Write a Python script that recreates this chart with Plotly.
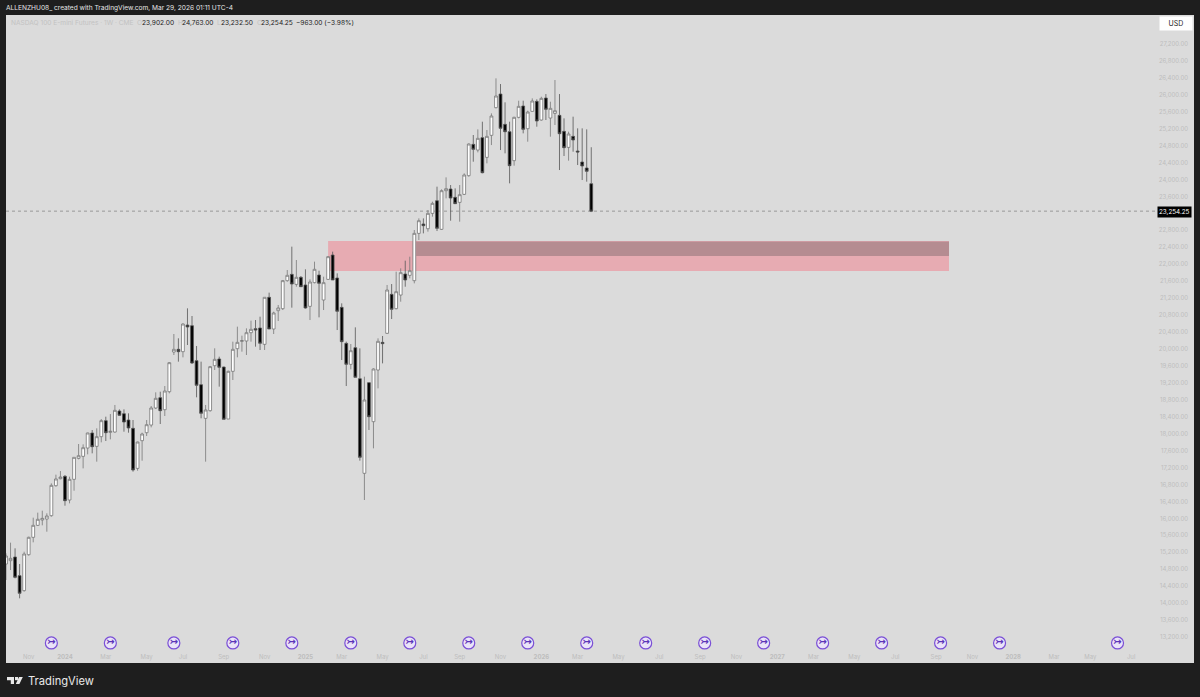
import plotly.graph_objects as go
from datetime import date, timedelta

first_week = date(2023, 10, 2)

opens = [14924,15003,15089,14649,14295,15144,15554,15837,15963,15986,
         16065,16773,16938,16994,16435,16923,17418,17466,17662,18017,
         17702,17930,18308,18032,18040,18536,18473,18323,18127,17182,
         17836,18024,18205,18607,18851,18567,18992,19929,19992,19937,
         20566,20551,19724,19158,18363,18544,19606,19764,19575,18347,
         19473,20008,20181,20189,20385,20480,20496,20110,21220,20472,
         20905,20952,21613,21762,21526,21692,21511,21007,21566,21747,
         21157,21644,22219,21676,20983,20133,19638,20031,19299,17065,
         19205,18284,19504,20157,20370,21290,20952,21274,21770,21739,
         21613,22730,22951,22840,23202,23501,22825,23737,23777,23580,
         23462,23651,24092,24831,24697,24989,24524,25044,25697,26019,
         25303,25130,24446,25469,25736,25201,25610,25846,25406,25925,
         25453,25563,25516,25138,24760,25020,24674,24414,24273,23902]
highs = [15176,15428,15294,14924,15215,15569,16018,16136,16183,16120,
         16828,17033,17119,17025,16986,17442,17757,17749,18024,18087,
         18127,18347,18402,18465,18678,18575,18575,18481,18323,17812,
         18024,18323,18654,18977,18992,19126,19693,20354,20252,20606,
         20960,20779,20071,19701,18678,19599,20016,19819,19583,19488,
         20173,20527,20315,20488,20669,20684,20763,21220,21330,20881,
         21039,21629,21865,22416,22101,21723,21881,21644,22062,21849,
         21707,22195,22298,21786,21078,20173,20118,20511,20015,19347,
         19205,19543,20251,20307,21511,21534,21825,21904,22085,22179,
         22809,23084,23084,23281,23478,23832,23769,24052,23871,23792,
         23871,24147,24855,25052,25185,25366,25170,25563,26389,26255,
         25823,25366,25484,25862,25862,25626,25917,25894,25956,26019,
         25838,26350,26019,25445,25130,25484,25209,25209,25185,24763]
lows = [14546,14782,14586,14114,14271,15121,15436,15821,15837,15687,
        16041,16750,16923,16301,16356,16655,17395,17182,17513,17537,
        17340,17796,17828,17867,18024,18418,18048,18024,17104,17127,
        17363,17946,18150,18583,18229,18418,18953,19858,19701,19803,
        20094,19646,18859,18363,17340,18520,19504,19111,18339,18347,
        19268,19803,19937,19858,20173,20055,19976,19976,20472,20354,
        20661,20920,21589,20976,21471,21471,20952,20684,21550,20747,
        20920,21629,21629,20448,19740,19126,19520,19331,17364,16435,
        18088,17655,19071,19661,20354,20708,20936,21117,21471,21668,
        21550,22573,22730,22770,23124,22785,22809,23556,23029,23423,
        23006,23635,24068,24422,24642,24147,24383,24815,25681,24697,
        24619,23911,24328,25445,25091,24894,25602,25248,25390,25406,
        25012,25288,24225,24556,24446,24658,24343,23989,23950,23232.5]
closes = [15113,15058,14609,14232,15160,15554,15837,15979,16002,16057,
          16781,16931,16978,16419,16923,17442,17481,17670,18017,17694,
          17930,18308,18024,18056,18552,18434,18276,18135,17143,17804,
          17993,18213,18607,18835,18544,19008,19677,19992,19937,20590,
          20519,19669,19142,18481,18560,19583,19756,19567,18339,19473,
          19992,20157,20197,20385,20464,20448,20134,21220,20472,20850,
          20968,21613,21739,21534,21692,21471,20968,21581,21881,21550,
          21566,22180,21629,20889,20173,19638,19960,19331,17442,18796,
          18402,19528,20181,20126,21392,20936,21353,21802,21629,21849,
          22730,23029,22911,23202,23438,22848,23737,23785,23564,23431,
          23643,24107,24839,24713,24973,24162,25020,25500,25972,25209,
          25130,24328,25469,25728,25185,25594,25854,25382,25917,25657,
          25681,25626,25083,24753,25075,24934,24650,24320,24194,23254.25]

x_tick_dates = ["2023-11-06","2024-01-01","2024-03-04","2024-05-06","2024-07-01","2024-09-02","2024-11-04",
                "2025-01-06","2025-03-03","2025-05-05","2025-07-07","2025-09-01","2025-11-03",
                "2026-01-05","2026-03-02","2026-05-04","2026-07-06","2026-09-07","2026-11-02",
                "2027-01-04","2027-03-01","2027-05-03","2027-07-05","2027-09-06","2027-11-01",
                "2028-01-03","2028-03-06","2028-05-01","2028-07-03"]
x_tick_labels = ["Nov","<b>2024</b>","Mar","May","Jul","Sep","Nov",
                 "<b>2025</b>","Mar","May","Jul","Sep","Nov",
                 "<b>2026</b>","Mar","May","Jul","Sep","Nov",
                 "<b>2027</b>","Mar","May","Jul","Sep","Nov",
                 "<b>2028</b>","Mar","May","Jul"]
y_ticks = [t for t in range(13200, 27201, 400) if t != 23200]

event_dates = ["2023-12-11","2024-03-11","2024-06-17","2024-09-16","2024-12-16","2025-03-17",
               "2025-06-16","2025-09-15","2025-12-15","2026-03-16","2026-06-15","2026-09-14",
               "2026-12-14","2027-03-15","2027-06-14","2027-09-13","2027-12-13","2028-06-12"]
event_price = 13060

zone_outer = ("2025-02-10", "2027-09-26", 21841, 22549)
zone_inner = ("2025-06-26", "2027-09-26", 22195, 22535)
last_price = closes[-1]

dates = [(first_week + timedelta(days=7 * i)).isoformat() for i in range(len(opens))]

W, H = 1200, 697
L, R, T, B = 6, 1194, 15, 663
PW, PH = R - L, B - T
BG = "#DBDBDB"
DARK = "#1E1E1E"
FONT = "Inter, Roboto, sans-serif"


def fx(px):
    return (px - L) / PW


def fy(py):
    return (B - py) / PH


def label(px, py, text, color, size, anchor="left", **kw):
    return dict(x=fx(px), y=fy(py), xref="paper", yref="paper", text=text, showarrow=False,
                xanchor=anchor, yanchor="middle", font=dict(color=color, size=size, family=FONT), **kw)


def poly(points, color):
    path = "M " + " L ".join(f"{fx(a):.5f},{fy(b):.5f}" for a, b in points) + " Z"
    return dict(type="path", xref="paper", yref="paper", path=path, fillcolor=color, line=dict(width=0), layer="above")


fig = go.Figure()
fig.add_trace(go.Candlestick(
    x=dates, open=opens, high=highs, low=lows, close=closes,
    increasing=dict(line=dict(color="#777777", width=0.8), fillcolor="#FFFFFF"),
    decreasing=dict(line=dict(color="#555555", width=0.8), fillcolor="#000000"),
    whiskerwidth=0, showlegend=False,
))
fig.add_trace(go.Scatter(
    x=event_dates, y=[event_price] * len(event_dates), mode="markers+text",
    marker=dict(size=12, color="#EAE3F8", line=dict(color="#7A4FD6", width=1.2)),
    text=["<b>↣</b>"] * len(event_dates), textposition="middle center",
    textfont=dict(size=10, color="#5B34B8", family="DejaVu Sans"),
    showlegend=False,
))

shapes = [
    dict(type="rect", xref="x", yref="y", x0=zone_outer[0], x1=zone_outer[1], y0=zone_outer[2], y1=zone_outer[3],
         fillcolor="#E7ABB2", line=dict(width=0), layer="below"),
    dict(type="rect", xref="x", yref="y", x0=zone_inner[0], x1=zone_inner[1], y0=zone_inner[2], y1=zone_inner[3],
         fillcolor="#B58C91", line=dict(width=0), layer="below"),
    dict(type="line", xref="paper", yref="y", x0=0, x1=1, y0=last_price, y1=last_price,
         line=dict(color="#888888", width=0.8, dash="dot"), layer="below"),
    poly([(7, 677), (14, 677), (14, 684), (10.8, 684), (10.8, 680.2), (7, 680.2)], "#E8E8E8"),
    poly([(15, 677), (18, 677), (18, 680.2), (15, 680.2)], "#E8E8E8"),
    poly([(19, 677), (22.8, 677), (19.4, 684), (15.8, 684)], "#E8E8E8"),
]

C_LIGHT = "#C2C2C2"
C_TEXT = "#222222"
S = 6.6
annotations = [
    label(4, 8, "ALLENZHU08_ created with TradingView.com, Mar 29, 2026 01:11 UTC-4", "#E6E6E6", S),
    label(9, 23, "NASDAQ 100 E-mini Futures · 1W · CME", C_LIGHT, S),
    label(135, 23, "O", C_LIGHT, S), label(140, 23, "23,902.00", C_TEXT, S),
    label(176, 23, "H", C_LIGHT, S), label(180, 23, "24,763.00", C_TEXT, S),
    label(215, 23, "L", C_LIGHT, S), label(219, 23, "23,232.50", C_TEXT, S),
    label(255, 23, "C", C_LIGHT, S), label(259, 23, "23,254.25", C_TEXT, S),
    label(294, 23, "−963.00 (−3.98%)", C_TEXT, S),
    label(1175.5, 24, "USD", "#222222", 7, anchor="center", bgcolor="#FFFFFF", borderpad=0, width=32, height=13),
    label(1192, 212, "23,254.25", "#FFFFFF", 6.3, anchor="right", bgcolor="#000000", borderpad=1),
    label(26, 681, "TradingView", "#E8E8E8", 11.2),
]

fig.update_layout(
    width=W, height=H, margin=dict(l=L, r=W - R, t=T, b=H - B),
    paper_bgcolor=DARK, plot_bgcolor=BG, shapes=shapes, annotations=annotations,
    font=dict(family=FONT), hovermode=False, boxgap=0.12,
    xaxis=dict(
        rangeslider=dict(visible=False), type="date",
        range=[(date(2026, 3, 23) - timedelta(days=903)).isoformat(), (date(2026, 3, 23) + timedelta(days=930)).isoformat()],
        tickmode="array", tickvals=x_tick_dates, ticktext=x_tick_labels, ticks="", showgrid=False, zeroline=False,
        showline=False, ticklabelposition="inside", tickfont=dict(size=6, color="#BDBDBD", family=FONT), tickangle=0,
    ),
    yaxis=dict(
        side="right", range=[12587, 27885], tickmode="array", tickvals=y_ticks,
        tickformat=",.2f", ticks="", showgrid=False, zeroline=False, showline=False,
        ticklabelposition="inside", ticklabelstandoff=3, tickfont=dict(size=6, color="#BDBDBD", family=FONT),
    ),
)

fig.write_html("out.html", config=dict(displayModeBar=False),
               post_script="document.body.style.margin='0';document.body.style.overflow='hidden';")
